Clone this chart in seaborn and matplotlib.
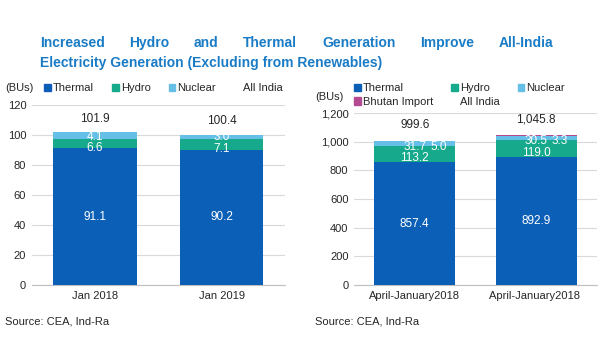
import matplotlib
matplotlib.use("Agg")
import matplotlib.pyplot as plt
import seaborn as sns
from matplotlib.patches import Patch

sns.set_style("white")
plt.rcParams['font.family'] = ['Liberation Sans', 'DejaVu Sans']

# data
left_cats = ['Jan 2018', 'Jan 2019']
left_thermal = [91.1, 90.2]
left_hydro = [6.6, 7.1]
left_nuclear = [4.1, 3.0]
left_total = [101.9, 100.4]

right_cats = ['April-January2018', 'April-January2018 ']
right_thermal = [857.4, 892.9]
right_hydro = [113.2, 119.0]
right_nuclear = [31.7, 30.5]
right_bhutan = [5.0, 3.3]
right_total = [999.6, 1045.8]

C_TH = '#0b5fb6'
C_HY = '#16a98b'
C_NU = '#66bfe6'
C_BH = '#b44a92'
GRID = '#d9d9d9'

fig = plt.figure(figsize=(6, 3.6), dpi=100)


def stacked(ax, cats, series, colors, width):
    # draw cumulative totals from top layer down so lower layers cover upper ones
    cum = []
    run = [0.0] * len(cats)
    for s in series:
        run = [a + b for a, b in zip(run, s)]
        cum.append(run)
    for c, col in reversed(list(zip(cum, colors))):
        sns.barplot(x=cats, y=c, color=col, width=width, saturation=1,
                    linewidth=0, ax=ax, zorder=3)
    return cum


def style(ax, ymax, step, fmt):
    ax.set_ylim(0, ymax)
    ax.set_xlim(-0.5, 1.5)
    ax.set_yticks(range(0, ymax + 1, step))
    ax.set_yticklabels([fmt(v) for v in range(0, ymax + 1, step)])
    ax.yaxis.grid(True, color=GRID, lw=0.8, zorder=0)
    ax.set_axisbelow(True)
    for s in ['top', 'right', 'left']:
        ax.spines[s].set_visible(False)
    ax.spines['bottom'].set_color('#bfbfbf')
    ax.tick_params(axis='both', labelsize=8, length=0, pad=4)
    ax.set_xticks([-0.5, 0.5, 1.5], minor=True)
    ax.tick_params(axis='x', which='minor', length=3, color='#bfbfbf')
    ax.set_xlabel('')
    ax.set_ylabel('')


# left chart
axl = fig.add_axes([0.053, 0.208, 0.422, 0.5])
cum = stacked(axl, left_cats, [left_thermal, left_hydro, left_nuclear],
              [C_TH, C_HY, C_NU], 0.66)
style(axl, 120, 20, lambda v: f"{v}")
for i in range(2):
    axl.text(i, left_thermal[i] / 2, f"{left_thermal[i]:.1f}", color='white',
             ha='center', va='center', fontsize=8.5, zorder=5)
    axl.text(i, cum[0][i] + 0.6, f"{left_hydro[i]:.1f}", color='white',
             ha='center', va='center', fontsize=8.5, zorder=5)
    axl.text(i, cum[1][i] + 1.2, f"{left_nuclear[i]:.1f}", color='white',
             ha='center', va='center', fontsize=8.5, zorder=5)
    axl.annotate(f"{left_total[i]:.1f}", (i, cum[2][i]), xytext=(0, 10),
                 textcoords='offset points', ha='center', va='center',
                 fontsize=8.5, zorder=5)

hl = [Patch(color=C_TH), Patch(color=C_HY), Patch(color=C_NU),
      Patch(color='none')]
axl.legend(hl, ['Thermal', 'Hydro', 'Nuclear', 'All India'], ncol=4,
           frameon=False, fontsize=8, handlelength=0.6, handleheight=0.6,
           handletextpad=0.2, columnspacing=1.6,
           loc='center left', bbox_to_anchor=(0.01, 1.095))
fig.text(0.008, 1 - 88 / 360, '(BUs)', fontsize=8, va='center')

# right chart
axr = fig.add_axes([0.59, 0.208, 0.405, 0.478])
cum = stacked(axr, right_cats,
              [right_thermal, right_hydro, right_nuclear, right_bhutan],
              [C_TH, C_HY, C_NU, C_BH], 0.67)
style(axr, 1200, 200, lambda v: f"{v:,}")
for i in range(2):
    axr.text(i, right_thermal[i] / 2, f"{right_thermal[i]:.1f}", color='white',
             ha='center', va='center', fontsize=8.5, zorder=5)
    axr.text(i, cum[0][i] + 27, f"{right_hydro[i]:.1f}", color='white',
             ha='center', va='center', fontsize=8.5, zorder=5)
    axr.text(i, cum[1][i] - 8, f"{right_nuclear[i]:.1f}", color='white',
             ha='center', va='center', fontsize=8.5, zorder=5)
    axr.annotate(f"{right_bhutan[i]:.1f}", (i, cum[1][i] - 8), xytext=(17, 0),
                 textcoords='offset points', color='white', ha='center',
                 va='center', fontsize=8.5, zorder=5)
    axr.annotate(f"{right_total[i]:,.1f}", (i, cum[3][i]), xytext=(0, 11),
                 textcoords='offset points', ha='center', va='center',
                 fontsize=8.5, zorder=5)

# legend filled column by column: rows read Thermal/Hydro/Nuclear, Bhutan/All India
hr = [Patch(color=C_TH), Patch(color=C_BH), Patch(color=C_HY),
      Patch(color='none'), Patch(color=C_NU)]
axr.legend(hr, ['Thermal', 'Bhutan Import', 'Hydro', 'All India', 'Nuclear'],
           ncol=3, frameon=False, fontsize=8, handlelength=0.6,
           handleheight=0.6, handletextpad=0.2, columnspacing=1.6,
           labelspacing=0.35, loc='center left', bbox_to_anchor=(-0.04, 1.105))
fig.text(315 / 600, 1 - 97 / 360, '(BUs)', fontsize=8, va='center')

fig.text(5 / 600, 1 - 322 / 360, 'Source: CEA, Ind-Ra', fontsize=8, va='center')
fig.text(315 / 600, 1 - 322 / 360, 'Source: CEA, Ind-Ra', fontsize=8,
         va='center')

# title, first line justified
title1 = ['Increased', 'Hydro', 'and', 'Thermal', 'Generation', 'Improve',
          'All-India']
title2 = 'Electricity Generation (Excluding from Renewables)'
TCOL = '#1a7cc6'
x0, x1 = 40 / 600, 553 / 600
y1, y2 = 1 - 43 / 360, 1 - 63 / 360
fig.canvas.draw()
r = fig.canvas.get_renderer()
words = [fig.text(0, y1, w, fontsize=10, fontweight='bold', color=TCOL,
                  va='center') for w in title1]
widths = [t.get_window_extent(r).width / fig.bbox.width for t in words]
gap = (x1 - x0 - sum(widths)) / (len(words) - 1)
x = x0
for t, w in zip(words, widths):
    t.set_x(x)
    x += w + gap
fig.text(x0, y2, title2, fontsize=10, fontweight='bold', color=TCOL,
         va='center')

fig.savefig('out.png', dpi=100)
